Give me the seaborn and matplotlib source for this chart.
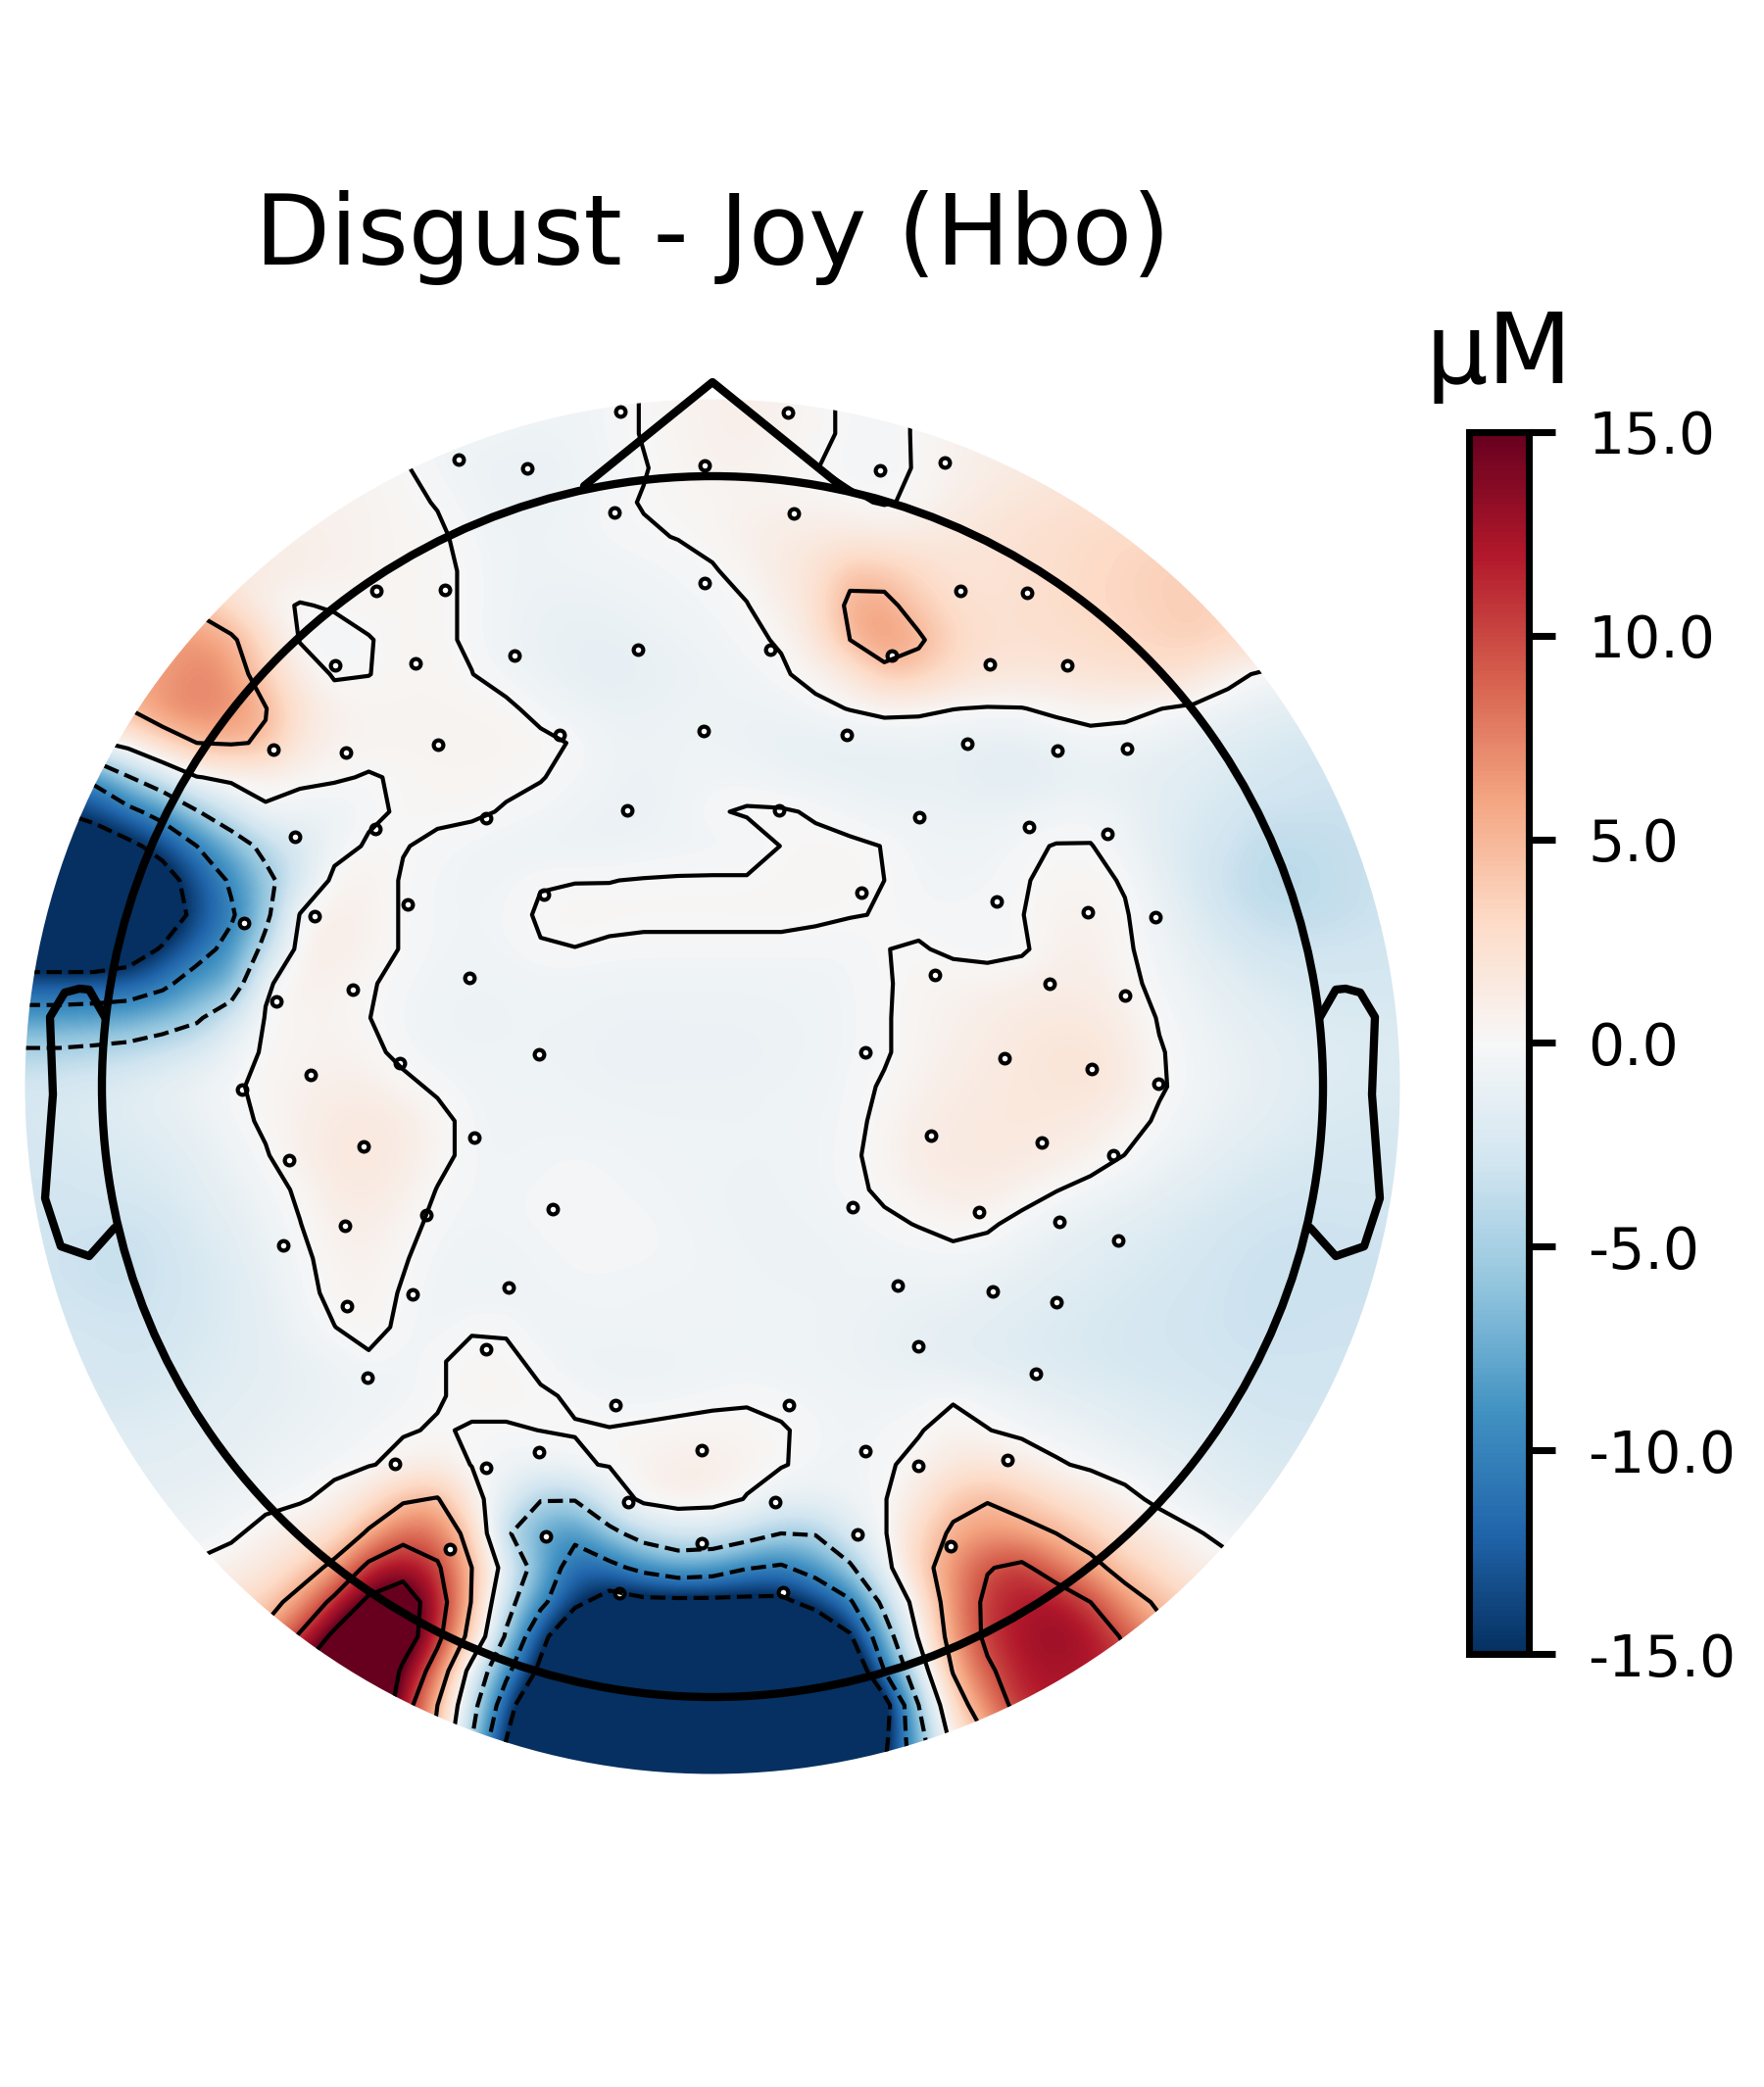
import numpy as np
import seaborn as sns
import matplotlib
matplotlib.use('Agg')
import matplotlib.pyplot as plt
from matplotlib.patches import Circle

sns.set_style("white", {"text.color": "black", "ytick.color": "black", "xtick.color": "black", "axes.edgecolor": "black"})
plt.rcParams['font.family'] = ['DejaVu Sans']

# readings of the map on a 41 x 41 lattice, each row starts at first_col
first_col = [14, 13, 10, 9, 8, 7, 5, 5, 4, 3, 2, 1, 1, 0, 0, 0, 0, 0, 0, 0, 0, 0, 0, 0, 0, 0,
             1, 1, 2, 3, 4, 3, 4, 5, 5, 6, 7, 8, 9, 10, 12]
field_rows = [
    [-.6, -.7, -.6, -.3, .05, .4, .7, .8, .6, .2, -.15, -.3, .1, .6],
    [-.5, -.6, -.7, -.6, -.3, .05, .4, .7, .8, .6, .2, -.15, -.3, .1, .6, .9],
    [.4, .1, -.4, -.8, -1, -1, -.8, -.4, -.05, .3, .6, .6, .3, .03, -.3, -.35, .1, .6, 1, 1.3, 1.6],
    [.6, .5, .2, -.05, -.6, -.9, -.9, -.6, -.2, .05, .2, .3, .5, .5, .4, .2, -.1, .2, .9, 1.4, 1.8, 2.1, 2.3],
    [.8, .7, .5, .3, .15, -.3, -.7, -.7, -.5, -.3, -.1, .03, .3, .8, 1.1, 1.3, 1.3, 1.2, 1.3, 1.6, 2, 2.3, 2.6, 2.8, 3],
    [1.3, 1, .7, .5, .3, .2, -.15, -.7, -.8, -.7, -.6, -.5, -.3, -.1, .4, 1.3, 2, 4.2, 3.8, 2.8, 2, 2, 2.3, 2.6, 2.9, 3.2, 3.6, 3.6],
    [4.5, 2.5, .5, -.1, .15, .3, .25, .2, -.15, -.7, -.9, -1, -.9, -.7, -.5, -.3, -.05, .8, 2.2, 5.6, 5.8, 3.8, 2.6, 2.2, 2.4, 2.7, 3, 3.2, 3.5, 3.8, 3],
    [6.5, 5.5, 2.5, -.1, -.6, -.05, .3, .2, -.15, -.8, -1, -1.2, -1.2, -1, -.8, -.5, -.2, .1, 1.8, 5, 6.5, 5.4, 3.2, 2.4, 2.3, 2.5, 2.7, 3, 3.3, 3.6, 3.2],
    [6, 7.5, 6.5, 3.5, 1, -.15, -.02, .3, .3, .02, -.5, -.9, -1.2, -1.4, -1.2, -1, -.8, -.5, -.15, .4, 1.6, 4.2, 3.8, 2.5, 1.9, 1.7, 1.8, 2.1, 2.3, 2.5, 2, .6, -.3],
    [5, 7, 7.5, 7, 5.1, 2, .7, .4, .4, .4, .3, .25, -.4, -.8, -1, -1, -.8, -.7, -.8, -.7, -.3, .05, .4, .3, .03, -.1, -.05, .3, .5, .4, .03, -.3, -.8, -1.2, -1.6],
    [-.5, 1, 3.2, 5, 5.2, 4.8, 1.6, .6, .5, .4, .5, .5, .4, .3, -.1, -.7, -.8, -.7, -.7, -.9, -1.1, -1.2, -1.1, -1.1, -1, -1.1, -1.3, -1.3, -.9, -.5, -.6, -1, -1.4, -1.8, -2.1, -2.4, -2.6],
    [-10, -9, -5.2, -2.5, -.1, .5, .5, .4, .15, -.1, .15, .3, .3, .25, .05, -.3, -.7, -.9, -.7, -.5, -.5, -.8, -1, -1.1, -1.2, -1.1, -1.2, -1.5, -1.6, -1.3, -1.2, -1.3, -1.5, -1.8, -2.1, -2.5, -2.8, -3],
    [-15, -13.5, -11, -8.5, -5.2, -2.5, -.2, -.8, -.8, -.3, .2, .2, .2, -.1, -.3, -.7, -.9, -1, -.6, -.1, .1, .1, -.1, -.5, -.8, -.9, -.9, -1, -.9, -.6, -.5, -.9, -1.6, -2, -2.6, -3.2, -3.2, -3.3, -3.3],
    [-18, -18, -18, -16, -13.5, -10, -7, -4, -2.2, -.7, .2, .05, -.2, -.5, -.7, -.9, -.9, -.9, -.7, -.6, -.5, -.5, .02, .2, .2, -.03, -.5, -.7, -.6, -.2, .05, .05, -.6, -1.6, -2.4, -3, -3.8, -3.8, -3.6, -3.3],
    [-20, -20, -20, -20, -17, -13, -9.5, -6, -2.5, .5, .6, -.1, -.4, -.6, -.5, -.05, -.03, -.02, .05, .09, .09, .09, .2, .3, .2, 0, -.4, -.5, -.4, -.1, .3, .3, -.1, -1.2, -2.4, -3.4, -4, -4, -3.7, -3.4, -3],
    [-20, -20, -20, -20, -18.5, -13.5, -10.5, -5.8, .1, .9, .6, -.1, -.4, -.5, -.3, .1, .3, .25, .2, .2, .2, .2, .2, .15, .03, -.03, -.3, -.3, -.2, -.03, .5, .6, .1, -.8, -1.9, -3, -3.6, -3.8, -3.6, -3.3, -3],
    [-20, -20, -20, -18, -14.5, -11.5, -8.8, -4, .8, 1, .6, -.1, -.4, -.6, -.4, -.05, -.02, -.15, -.2, -.2, -.2, -.2, -.2, -.3, -.3, -.02, .1, -.2, -.4, -.2, .7, .8, .2, -.6, -1.4, -2.2, -2.8, -3, -3, -2.9, -2.8],
    [-12.5, -12.5, -12.5, -12.2, -10.8, -8.3, -7.5, -.2, .7, .6, .1, -.3, -.6, -.7, -.7, -.6, -.6, -.7, -.7, -.7, -.7, -.7, -.7, -.6, -.4, -.1, .3, .5, .6, .8, 1, 1, .4, -.4, -1, -1.6, -2.1, -2.5, -2.6, -2.6, -2.6],
    [-8.5, -8.5, -8.2, -7.8, -6.8, -5.5, -2.6, .1, .4, .5, .02, -.4, -.7, -.8, -.7, -.7, -.7, -.8, -.8, -.8, -.8, -.8, -.7, -.7, -.4, -.1, .4, .7, 1, 1.3, 1.5, 1.4, .9, -.1, -.7, -1.2, -1.6, -2, -2.2, -2.2, -2.2],
    [-4.5, -4.5, -4.2, -3.8, -3, -2.2, -.8, .2, .4, .6, .3, -.3, -.6, -.7, -.7, -.7, -.8, -.9, -1, -.9, -.9, -.9, -.8, -.7, -.4, -.1, .4, .8, 1.2, 1.6, 1.9, 1.9, 1.2, .1, -.5, -1, -1.3, -1.7, -1.9, -2, -2],
    [-2.5, -2.5, -2.2, -1.8, -1.2, -.8, -.2, .3, .6, .9, .9, .3, -.2, -.5, -.6, -.6, -.7, -.8, -.8, -.8, -.8, -.8, -.7, -.6, -.3, .1, .6, 1.1, 1.4, 1.6, 1.8, 1.9, 1.3, .15, -.5, -.9, -1.3, -1.7, -2, -2.1, -2.1],
    [-2.5, -2.3, -2, -1.8, -1.5, -1, -.4, .2, .8, 1.3, 1.6, 1.2, .4, -.4, -.6, -.5, -.6, -.6, -.7, -.7, -.7, -.7, -.6, -.5, -.3, .3, 1, 1.3, 1.5, 1.6, 1.5, 1.2, .6, -.2, -.7, -1.1, -1.5, -1.9, -2.2, -2.3, -2.3],
    [-2.5, -2.5, -2.4, -2.2, -1.9, -1.4, -.8, -.1, .8, 1.5, 1.6, 1.2, .4, -.4, -.5, -.4, -.3, -.4, -.5, -.6, -.6, -.7, -.7, -.5, -.2, .4, 1.1, 1.4, 1.5, 1.4, 1.1, .6, -.02, -.6, -1.1, -1.6, -2, -2.3, -2.5, -2.5, -2.5],
    [-2.8, -2.8, -2.6, -2.4, -2.2, -1.7, -1.1, -.5, .2, 1.2, 1.4, .9, -.05, -.4, -.4, -.3, -.3, -.3, -.4, -.5, -.7, -.8, -.7, -.5, -.25, .2, .8, 1.1, 1.1, .6, .05, -.4, -.8, -1.3, -1.7, -2.1, -2.5, -2.7, -2.8, -2.7, -2.7],
    [-3, -3, -3, -3.2, -2.8, -2, -1.5, -.8, -.03, .8, 1, .4, -.3, -.5, -.4, -.3, -.3, -.3, -.3, -.4, -.6, -.8, -.8, -.7, -.5, -.2, .05, .4, .2, -.4, -.9, -1.3, -1.6, -1.9, -2.3, -2.7, -3, -3.1, -3.1, -3, -3],
    [-3, -3, -3.4, -3.5, -3, -2.4, -1.8, -1, -.3, .5, .7, .1, -.5, -.6, -.6, -.4, -.3, -.3, -.3, -.4, -.5, -.7, -.8, -.8, -.7, -.6, -.5, -.4, -.6, -1, -1.4, -1.7, -2, -2.3, -2.6, -3, -3.2, -3.3, -3.2, -3.2, -3.2],
    [-3, -3.2, -3.3, -3, -2.5, -2, -1.3, -.4, .3, .5, -.1, -.6, -.7, -.7, -.5, -.4, -.4, -.5, -.5, -.5, -.6, -.7, -.7, -.7, -.8, -.9, -1, -1.2, -1.5, -1.8, -2.1, -2.3, -2.6, -2.8, -3.1, -3.3, -3.3, -3.2, -3.2],
    [-2.6, -2.8, -3, -2.8, -2.4, -1.9, -1.4, -.7, -.02, .5, -.3, -.6, -.1, -.1, -.7, -.6, -.5, -.5, -.5, -.6, -.6, -.6, -.7, -.8, -1, -1.2, -1.4, -1.6, -1.9, -2.1, -2.3, -2.5, -2.7, -2.9, -3.1, -3.2, -3.2, -3.1],
    [-2.4, -2.7, -2.5, -2.2, -1.8, -1.5, -1.1, -.8, -.25, -.6, -.1, .3, .2, -.2, -.8, -.9, -.9, -.8, -.7, -.6, -.7, -.7, -.8, -1, -1.2, -1.5, -1.7, -1.9, -2.1, -2.3, -2.5, -2.6, -2.8, -3, -3, -3, -3],
    [-2.5, -2.2, -1.9, -1.6, -1.4, -1.1, -.9, -.7, -.5, -.1, .3, .3, .1, -.1, -.5, -.6, -.5, -.3, -.15, -.3, -.5, -.6, -.7, -.5, -.2, -.6, -1, -1.4, -1.7, -2, -2.2, -2.4, -2.7, -2.9, -3],
    [-1.8, -1.6, -1.4, -1.1, -.9, -.7, -.4, -.1, .1, -.1, -.1, .01, .05, .05, .2, .35, .4, .3, .1, -.3, -.5, -.3, -.1, .6, .05, -.4, -.7, -1, -1.4, -1.8, -2, -2.2, -2.5, -2.6],
    [-1.6, -1.5, -1.4, -1.2, -.9, -.7, -.4, -.1, .4, .9, -.05, -.6, -.6, -.2, .1, .6, .9, .9, .6, .1, -.4, -.6, -.2, .4, 1.5, 1.8, 1.2, .2, -.3, -.7, -1.1, -1.5, -1.9, -2.2, -2.3, -2.3],
    [-1.2, -1, -.8, -.5, -.2, .5, 2, 4.5, 5.2, .8, -1.5, -4.8, -4.8, -1.5, .5, 1, .8, -.1, -1, -1, -.6, -.1, 1.5, 4, 4.8, 3.8, 2.5, 1.5, .5, -.4, -1, -1.5, -1.8, -2],
    [-.8, -.3, .6, 1.3, 2.2, 5.5, 8.5, 8, 3.5, -4.5, -8, -9, -6, -3.5, -2.5, -2.5, -3.5, -5, -4.8, -2, -.2, 3, 5.5, 6.5, 6, 5, 3.5, 2, 1, .2, -.5, -1],
    [.3, .8, 1.5, 3, 6, 11, 13, 10.5, 5, -1.5, -7, -12, -11, -9, -7.5, -8, -9.8, -10.5, -8.5, -5.5, -1, 3.5, 7, 9.8, 10.8, 8, 6, 3.8, 2.5, 1, .5],
    [2, 3.5, 6.5, 11, 16, 18, 12, 4.8, -3.5, -9, -14, -17, -16, -16, -16, -16, -16, -13.5, -10.5, -4, 1.5, 7, 10.8, 12, 12.5, 10, 6.5, 4.5, 3],
    [6, 10.5, 16, 22, 18, 11, 3.5, -5.5, -13.5, -20, -25, -25, -25, -25, -25, -25, -20, -15.5, -7, .3, 6.5, 10.8, 12.5, 13, 12.5, 9.5, 6],
    [15, 22, 23, 14, 8, -1.5, -9, -16, -25, -25, -25, -25, -25, -25, -25, -25, -20, -10, -2, 5.2, 9.4, 12, 12.5, 12, 11],
    [22, 22, 12, 5, -3.5, -12.5, -22, -25, -25, -25, -25, -25, -25, -25, -25, -25, -17, -5, 3, 7.5, 11.5, 12],
    [20, 12, 4, -5, -15, -23, -25, -25, -25, -25, -25, -25, -25, -25, -25, -16, -6.5, 1, 5, 9],
    [2, -7, -17, -25, -25, -25, -25, -25, -25, -25, -25, -25, -25, -15, -8, 0, 3],
]

contour_levels = [-15, -10, -5, 0, 5, 10, 15]
cbar_ticks = [-15, -10, -5, 0, 5, 10, 15]

# optode positions
sensor_px = [468, 384, 454, 342, 424, 279, 353, 447, 301, 383, 496, 633, 804, 538, 719, 898, 964, 627, 810, 719,
             910, 525, 651, 786, 571, 718, 864, 640, 795, 938, 980, 1048, 1010, 1089, 987, 1079, 1150, 1050, 1130,
             416, 321, 249, 360, 282, 479, 317, 247, 408, 371, 295, 484, 352, 435, 289, 421, 354, 555, 879, 954, 550,
             883, 950, 564, 870, 519, 916, 1017, 1110, 1179, 1071, 1148, 1025, 1114, 1182, 1063, 1136, 999, 1081,
             1141, 1013, 1078, 496, 375, 403, 496, 459, 628, 805, 937, 550, 716, 883, 937, 641, 791, 557, 716, 875,
             970, 632, 799, 1057, 1028]
sensor_py = [469, 603, 602, 679, 677, 765, 768, 760, 854, 846, 835, 420, 421, 478, 475, 480, 472, 523, 524, 595,
             669, 669, 663, 663, 750, 746, 750, 827, 827, 834, 603, 605, 678, 679, 759, 766, 764, 844, 851,
             923, 935, 942, 1010, 1022, 998, 1097, 1112, 1085, 1170, 1184, 1161, 1251, 1240, 1271, 1321, 1333, 913,
             911, 995, 1076, 1074, 1159, 1234, 1232, 1314, 1312, 920, 931, 936, 1004, 1016, 1080, 1091, 1106, 1166,
             1179, 1237, 1247, 1266, 1318, 1329, 1377, 1406, 1494, 1498, 1581, 1434, 1434, 1374, 1482, 1480, 1481,
             1496, 1533, 1533, 1568, 1575, 1566, 1578, 1626, 1625, 1402, 1490]

# head outline
nose_x = [-131, 0, 131]
nose_y = [613, 719, 613]
ear_x = [620, 636, 646, 661, 676, 673, 681, 665, 636, 610]
ear_y = [71, 99, 100, 96, 71, -8, -114, -163, -173, -144]

head_cx, head_cy = 727, 1109
head_r = 623
map_r = 701.5

n = len(field_rows)
field = np.zeros((n, n))
for j, row in enumerate(field_rows):
    left = first_col[j]
    right = n - left - len(row)
    field[j] = np.pad(np.array(row, dtype=float), (left, right), mode='edge')

fig = plt.figure(figsize=(6, 7.1), dpi=300)
half = 726
ax = fig.add_axes([(head_cx - half) / 1800, 1 - (head_cy + half) / 2130, 2 * half / 1800, 2 * half / 2130])
ax.set_xlim(-half, half)
ax.set_ylim(-half, half)

cmap = sns.color_palette("RdBu_r", as_cmap=True)
step = 2 * map_r / (n - 1)
im = ax.imshow(field, cmap=cmap, vmin=-15, vmax=15, interpolation='bicubic', origin='upper',
               extent=[-map_r - step / 2, map_r + step / 2, -map_r - step / 2, map_r + step / 2], zorder=1)
mask = Circle((0, 0), map_r, transform=ax.transData)
im.set_clip_path(mask)

grid = np.linspace(-map_r, map_r, n)
cs = ax.contour(grid, grid[::-1], field, levels=contour_levels, colors='k', linewidths=1, zorder=3)
cs.set_clip_path(mask)

sns.scatterplot(x=np.array(sensor_px) - head_cx, y=head_cy - np.array(sensor_py), s=5.5, color='white',
                edgecolor='k', linewidth=1, ax=ax, zorder=2, legend=False)

sns.lineplot(x=nose_x, y=nose_y, sort=False, estimator=None, color='k', lw=2, ax=ax, zorder=4)
sns.lineplot(x=ear_x, y=ear_y, sort=False, estimator=None, color='k', lw=2, ax=ax, zorder=4)
sns.lineplot(x=[-v for v in ear_x], y=ear_y, sort=False, estimator=None, color='k', lw=2, ax=ax, zorder=4)
ax.add_patch(Circle((0, 0), head_r, fill=False, color='k', lw=2, zorder=4))
ax.set_aspect('equal')
ax.axis('off')

fig.text(head_cx / 1800, 1 - 270 / 2130, 'Disgust - Joy (Hbo)', ha='center', va='baseline', fontsize=24)

cax = fig.add_axes([1499 / 1800, 1 - 1688 / 2130, 61 / 1800, 1247 / 2130])
cbar = fig.colorbar(im, cax=cax, ticks=cbar_ticks, format='%0.1f')
cbar.outline.set_linewidth(1.7)
cbar.outline.set_edgecolor('k')
cax.tick_params(length=6.5, width=1.7, labelsize=14, pad=8)
cax.set_title('µM', fontsize=24, pad=12)

fig.savefig('out.png', dpi=300)
